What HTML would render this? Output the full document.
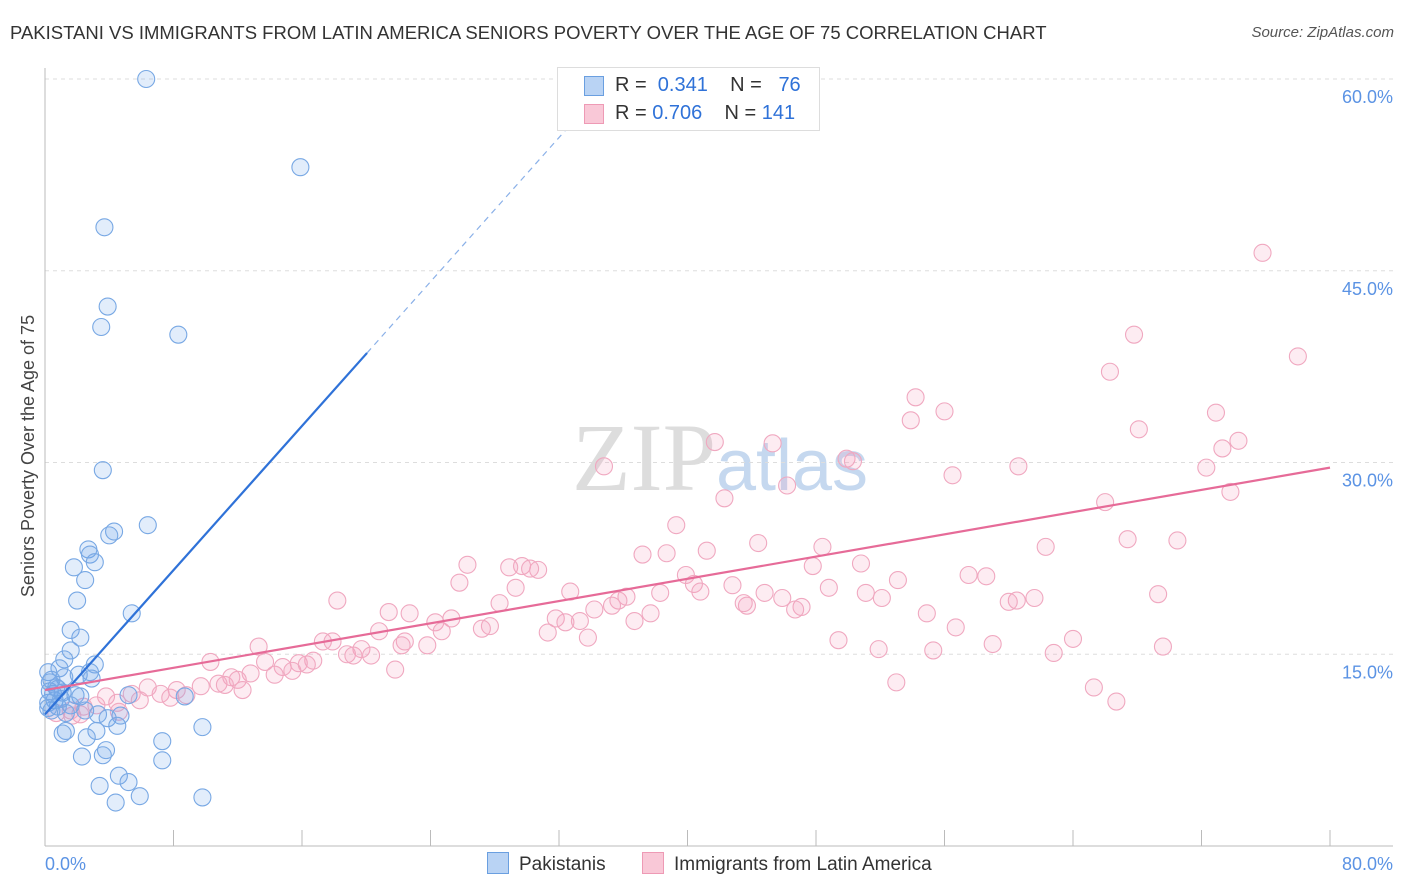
<!DOCTYPE html>
<html><head><meta charset="utf-8">
<style>
body{margin:0;background:#fff;font-family:"Liberation Sans",sans-serif;}
#wrap{position:relative;width:1406px;height:892px;overflow:hidden;}
.t{position:absolute;white-space:nowrap;}
</style></head>
<body>
<div id="wrap">
<div class="t" style="left:10px;top:22px;font-size:18.5px;color:#333;">PAKISTANI VS IMMIGRANTS FROM LATIN AMERICA SENIORS POVERTY OVER THE AGE OF 75 CORRELATION CHART</div>
<div class="t" style="right:12px;top:24px;font-size:15px;color:#555;font-style:italic;">Source: ZipAtlas.com</div>
<svg id="svg" width="1406" height="892" style="position:absolute;left:0;top:0">
<text x="720" y="490" text-anchor="middle" font-size="96" font-family="Liberation Serif" fill="#ddd">ZIP<tspan fill="#c5d8ef" font-family="Liberation Sans" font-size="72">atlas</tspan></text>
</svg>
</div>
<script>
const blueX=[6.3,15.9,3.7,3.9,3.5,8.3,3.6,6.4,4.3,4.0,2.7,2.8,3.1,1.8,2.5,2.0,5.4,1.6,2.2,1.6,1.2,3.1,0.9,0.2,2.8,2.1,1.2,2.9,0.4,0.7,0.3,1.1,1.9,2.2,5.2,8.7,0.6,0.2,1.6,0.8,0.4,2.5,1.3,3.3,4.7,3.9,4.5,9.8,3.2,1.3,1.1,2.6,7.3,3.8,3.6,2.3,7.3,4.6,5.2,3.4,5.9,9.8,4.4,0.3,0.5,1.0,0.2,0.8];
const blueY=[60.0,53.1,48.4,42.2,40.6,40.0,29.4,25.1,24.6,24.3,23.2,22.8,22.2,21.8,20.8,19.2,18.2,16.9,16.3,15.3,14.6,14.2,13.9,13.6,13.6,13.4,13.2,13.1,13.0,12.4,12.1,12.0,11.8,11.7,11.8,11.7,11.4,11.2,11.0,10.9,10.6,10.6,10.4,10.3,10.2,10.0,9.4,9.3,9.0,9.0,8.8,8.5,8.2,7.5,7.1,7.0,6.7,5.5,5.0,4.7,3.9,3.8,3.4,12.8,11.9,11.5,10.8,12.3];
const pinkX=[75.8,67.8,78.0,66.3,54.2,56.0,72.9,53.9,68.1,41.7,45.3,74.3,73.3,49.9,50.3,34.8,60.6,72.3,56.5,46.2,73.8,42.3,66.0,39.3,67.4,70.5,44.4,48.4,62.3,41.2,37.2,38.7,50.8,26.3,47.8,29.7,28.9,30.7,30.2,57.5,58.6,39.9,53.1,25.8,42.8,40.4,29.3,48.8,32.7,40.8,44.8,69.3,51.1,45.9,52.1,36.2,38.3,35.7,18.2,61.6,60.5,60.0,28.3,43.7,43.5,47.1,46.7,34.2,35.3,21.4,22.7,37.7,54.9,25.3,24.3,31.8,32.4,33.3,36.7,27.7,27.2,56.7,20.8,24.7,31.3,33.8,64.0,49.4,17.3,17.9,22.4,59.0,69.6,23.8,22.2,13.3,19.7,51.9,55.3,62.8,18.8,20.3,19.2,16.7,10.3,13.7,15.8,16.3,14.8,21.8,15.4,12.8,14.3,11.6,12.0,53.0,10.8,11.2,9.7,6.4,65.3,8.2,12.3,7.2,5.4,8.8,3.8,7.8,5.9,66.7,4.5,3.2,2.4,1.6,4.6,2.2,1.7,0.7];
const pinkY=[46.4,40.0,38.3,37.1,35.1,34.0,33.9,33.3,32.6,31.6,31.5,31.7,31.1,30.3,30.1,29.7,29.7,29.6,29.0,28.2,27.7,27.2,26.9,25.1,24.0,23.9,23.7,23.4,23.4,23.1,22.8,22.9,22.1,22.0,21.9,21.9,21.8,21.6,21.7,21.2,21.1,21.2,20.8,20.6,20.4,20.5,20.2,20.2,19.9,19.9,19.8,19.7,19.8,19.4,19.4,19.5,19.8,19.2,19.2,19.4,19.2,19.1,19.0,18.8,19.0,18.7,18.5,18.5,18.8,18.3,18.2,18.2,18.2,17.8,17.5,17.8,17.5,17.6,17.6,17.2,17.0,17.1,16.8,16.8,16.7,16.3,16.2,16.1,16.0,16.0,16.0,15.8,15.6,15.7,15.7,15.6,15.4,15.4,15.3,15.1,15.0,14.9,14.9,14.5,14.4,14.4,14.3,14.2,14.0,13.8,13.7,13.5,13.4,13.2,13.0,12.8,12.7,12.6,12.5,12.4,12.4,12.2,12.2,11.9,11.9,11.8,11.7,11.6,11.4,11.3,11.2,11.0,10.9,10.6,10.5,10.3,10.2,10.4];
const yTicks=[15,30,45,60];
const xTickCount=10;
const blueLine=[10.3,0,24.4];
const pinkLine=[12.2,29.6];

const NS="http://www.w3.org/2000/svg";
const svg=document.getElementById('svg');
const X0=45,X1=1330,YB=846;
const sx=v=>X0+(X1-X0)*v/80;
const sy=v=>YB-v*(YB-79)/60;
function mk(tag,attrs){const e=document.createElementNS(NS,tag);for(const k in attrs)e.setAttribute(k,attrs[k]);svg.appendChild(e);return e;}
yTicks.forEach(t=>{
 const g=mk('line',{x1:X0,x2:1393,y1:sy(t),y2:sy(t),stroke:'#ddd','stroke-dasharray':'4,4'});
 
 
 const tx=mk('text',{x:1393,y:sy(t)+24,'text-anchor':'end','font-size':18,fill:'#5b93e4'});
 tx.textContent=t.toFixed(1)+'%';
 
 
});
const ax=mk('line',{x1:X0,x2:X0,y1:68,y2:YB,stroke:'#bbb'});


const bx=mk('line',{x1:X0,x2:1393,y1:YB,y2:YB,stroke:'#bbb'});


for(let i=0;i<=xTickCount;i++){
 const tk=mk('line',{x1:sx(i*8),x2:sx(i*8),y1:YB,y2:YB-16,stroke:'#bbb'});
 
 
}
[['0.0%',X0,'start'],['80.0%',1393,'end']].forEach(a=>{
 const t=mk('text',{x:a[1],y:870,'text-anchor':a[2],'font-size':18,fill:'#5b93e4'});t.textContent=a[0];
 
 
});
const yt=mk('text',{x:34,y:456,'text-anchor':'middle','font-size':18,fill:'#444',transform:'rotate(-90 34 456)'});
yt.textContent='Seniors Poverty Over the Age of 75';


pinkX.forEach((v,i)=>{
 const c=mk('circle',{cx:sx(v),cy:sy(pinkY[i]),r:8.5,fill:'rgba(244,160,188,0.2)',stroke:'#f0a8c0','stroke-width':1.1});
 
 
});
blueX.forEach((v,i)=>{
 const c=mk('circle',{cx:sx(v),cy:sy(blueY[i]),r:8.5,fill:'rgba(110,165,235,0.2)',stroke:'#78a8e4','stroke-width':1.1});
 
 
});
const slopeB=(blueLine[2]-blueLine[0])/10;
const bl=mk('line',{x1:sx(0),y1:sy(blueLine[0]),x2:sx(20.05),y2:sy(blueLine[0]+slopeB*20.05),stroke:'#2f72d8','stroke-width':2.2});


const bd=mk('line',{x1:sx(20.05),y1:sy(blueLine[0]+slopeB*20.05),x2:sx(34),y2:sy(blueLine[0]+slopeB*34),stroke:'#8ab0e8','stroke-width':1.2,'stroke-dasharray':'6,5'});


const pl=mk('line',{x1:sx(0),y1:sy(pinkLine[0]),x2:sx(80),y2:sy(pinkLine[1]),stroke:'#e66b98','stroke-width':2.2});


</script>
<div class="t" style="left:557px;top:67px;width:261px;height:62px;border:1px solid #ddd;background:#fff;font-size:20px;color:#333;">
 <div style="position:absolute;left:26px;top:8px;width:18px;height:18px;background:#b9d3f4;border:1px solid #6a9fe0;"></div>
 <div class="t" style="left:57px;top:6px;">R = &nbsp;<span style="color:#2f72d8">0.341</span>&nbsp;&nbsp;&nbsp; N = &nbsp;&nbsp;<span style="color:#2f72d8">76</span></div>
 <div style="position:absolute;left:26px;top:36px;width:18px;height:18px;background:#f9c8d7;border:1px solid #ee9ab5;"></div>
 <div class="t" style="left:57px;top:34px;">R = <span style="color:#2f72d8">0.706</span>&nbsp;&nbsp;&nbsp; N = <span style="color:#2f72d8">141</span></div>
</div>
<div class="t" style="left:487px;top:852px;font-size:19px;color:#333;"><span style="display:inline-block;width:20px;height:20px;background:#b9d3f4;border:1px solid #6a9fe0;vertical-align:-4px;margin-right:10px;"></span>Pakistanis</div>
<div class="t" style="left:642px;top:852px;font-size:19px;color:#333;"><span style="display:inline-block;width:20px;height:20px;background:#f9c8d7;border:1px solid #ee9ab5;vertical-align:-4px;margin-right:10px;"></span>Immigrants from Latin America</div>
</body></html>
